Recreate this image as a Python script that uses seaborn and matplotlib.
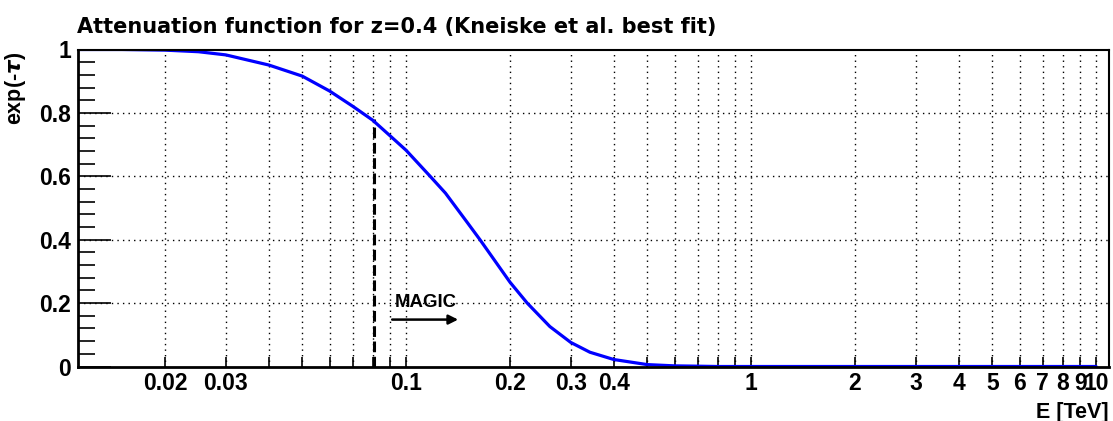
import matplotlib
matplotlib.use("Agg")
import matplotlib.pyplot as plt
import seaborn as sns
import pandas as pd
from matplotlib.ticker import FixedLocator, NullFormatter, FixedFormatter

# data
energy = [0.0112, 0.015, 0.02, 0.025, 0.03, 0.04, 0.05, 0.06, 0.07, 0.08, 0.09, 0.1,
          0.1174, 0.13, 0.15, 0.1637, 0.2, 0.2244, 0.261, 0.3, 0.341, 0.4, 0.5, 0.6, 0.7,
          0.8, 1.0, 2.0, 5.0, 10.0]
attenuation = [1.0, 1.0, 0.998, 0.993, 0.983, 0.951, 0.916, 0.869, 0.821, 0.777, 0.727, 0.682,
               0.600, 0.547, 0.456, 0.400, 0.266, 0.200, 0.126, 0.076, 0.045, 0.022, 0.006, 0.002,
               0.001, 0.0, 0.0, 0.0, 0.0, 0.0]
threshold_energy = 0.0807
threshold_value = 0.78
major_xticks = [0.02, 0.03, 0.04, 0.05, 0.06, 0.07, 0.08, 0.09,
                0.1, 0.2, 0.3, 0.4, 0.5, 0.6, 0.7, 0.8, 0.9,
                1, 2, 3, 4, 5, 6, 7, 8, 9, 10]
xtick_labels = ["0.02", "0.03", "", "", "", "", "", "",
                "0.1", "0.2", "0.3", "0.4", "", "", "", "", "",
                "1", "2", "3", "4", "5", "6", "7", "8", "9", "10"]
decade_ticks = [0.1, 1, 10]
yticks = [0, 0.2, 0.4, 0.6, 0.8, 1]
ytick_labels = ["0", "0.2", "0.4", "0.6", "0.8", "1"]
yminor = [0.04, 0.08, 0.12, 0.16, 0.24, 0.28, 0.32, 0.36, 0.44, 0.48, 0.52, 0.56,
          0.64, 0.68, 0.72, 0.76, 0.84, 0.88, 0.92, 0.96]

sns.set_style("white")
plt.rcParams['font.family'] = ['Liberation Sans', 'DejaVu Sans']
plt.rcParams['font.weight'] = 'bold'
plt.rcParams['text.color'] = 'black'
plt.rcParams['axes.labelcolor'] = 'black'
plt.rcParams['xtick.color'] = 'black'
plt.rcParams['ytick.color'] = 'black'

fig = plt.figure(figsize=(11.13, 4.21), dpi=100)
ax = fig.add_axes([78/1113, 1-366.5/421, (1109-78)/1113, (366.5-49.5)/421])

df = pd.DataFrame({"E": energy, "att": attenuation})
ax.set_xscale("log")
ax.set_xlim(0.01119, 10.9)
ax.set_ylim(0, 1)

# grid
grid_kw = dict(color="black", lw=1.0, linestyle=(0, (1, 3)), zorder=1)
for xv in major_xticks:
    ax.axvline(xv, **grid_kw)
for yv in [0.2, 0.4, 0.6, 0.8]:
    ax.axhline(yv, **grid_kw)

sns.lineplot(data=df, x="E", y="att", ax=ax, color="#0000ff", lw=2.3, zorder=3,
             estimator=None, sort=False)

ax.plot([threshold_energy, threshold_energy], [0, threshold_value], color="black",
        lw=2.2, linestyle=(0, (3.5, 1.5)), zorder=2)

ax.annotate("", xy=(0.1415, 0.148), xytext=(0.0911, 0.148),
            arrowprops=dict(arrowstyle="-|>", color="black", lw=1.8,
                            mutation_scale=14, shrinkA=0, shrinkB=0))
ax.text(0.0925, 0.187, "MAGIC", fontsize=13.4, fontweight="bold", ha="left",
        va="baseline", color="black")

# ticks
ax.xaxis.set_major_locator(FixedLocator(major_xticks))
ax.xaxis.set_major_formatter(FixedFormatter(xtick_labels))
ax.xaxis.set_minor_locator(FixedLocator(decade_ticks))
ax.xaxis.set_minor_formatter(NullFormatter())
ax.tick_params(axis="x", which="major", direction="in", length=7, width=1.2,
               labelsize=16.5, pad=4, top=False, bottom=True, colors="black")
ax.tick_params(axis="x", which="minor", direction="in", length=10, width=1.2,
               top=False, bottom=True, colors="black")
ax.set_yticks(yticks)
ax.set_yticklabels(ytick_labels)
ax.yaxis.set_minor_locator(FixedLocator(yminor))
ax.tick_params(axis="y", which="major", direction="in", length=24, width=1.2,
               labelsize=16.5, pad=5, right=False, left=True, colors="black")
ax.tick_params(axis="y", which="minor", direction="in", length=12, width=1.2,
               right=False, left=True, colors="black")
for lab in ax.get_xticklabels() + ax.get_yticklabels():
    lab.set_fontweight("bold")

for side in ["left", "bottom"]:
    ax.spines[side].set_linewidth(2.0)
for side in ["top", "right"]:
    ax.spines[side].set_linewidth(1.5)
for s in ax.spines.values():
    s.set_color("black")
    s.set_zorder(5)

ax.set_xlabel("")
ax.set_ylabel("")
fig.text(1109/1113, 1-418/421, "E [TeV]", ha="right", va="baseline", fontsize=15.5,
         fontweight="bold", color="black")
fig.text(3/1113, 1-52/421, r"exp(-$\tau$)", ha="left", va="top", rotation=90,
         fontsize=15.5, fontweight="bold", color="black")
fig.text(77/1113, 1-32.7/421, "Attenuation function for z=0.4 (Kneiske et al. best fit)",
         ha="left", va="baseline", fontsize=15, fontweight="bold",
         family=["DejaVu Sans"], color="black")

fig.savefig("out.png", dpi=100)
